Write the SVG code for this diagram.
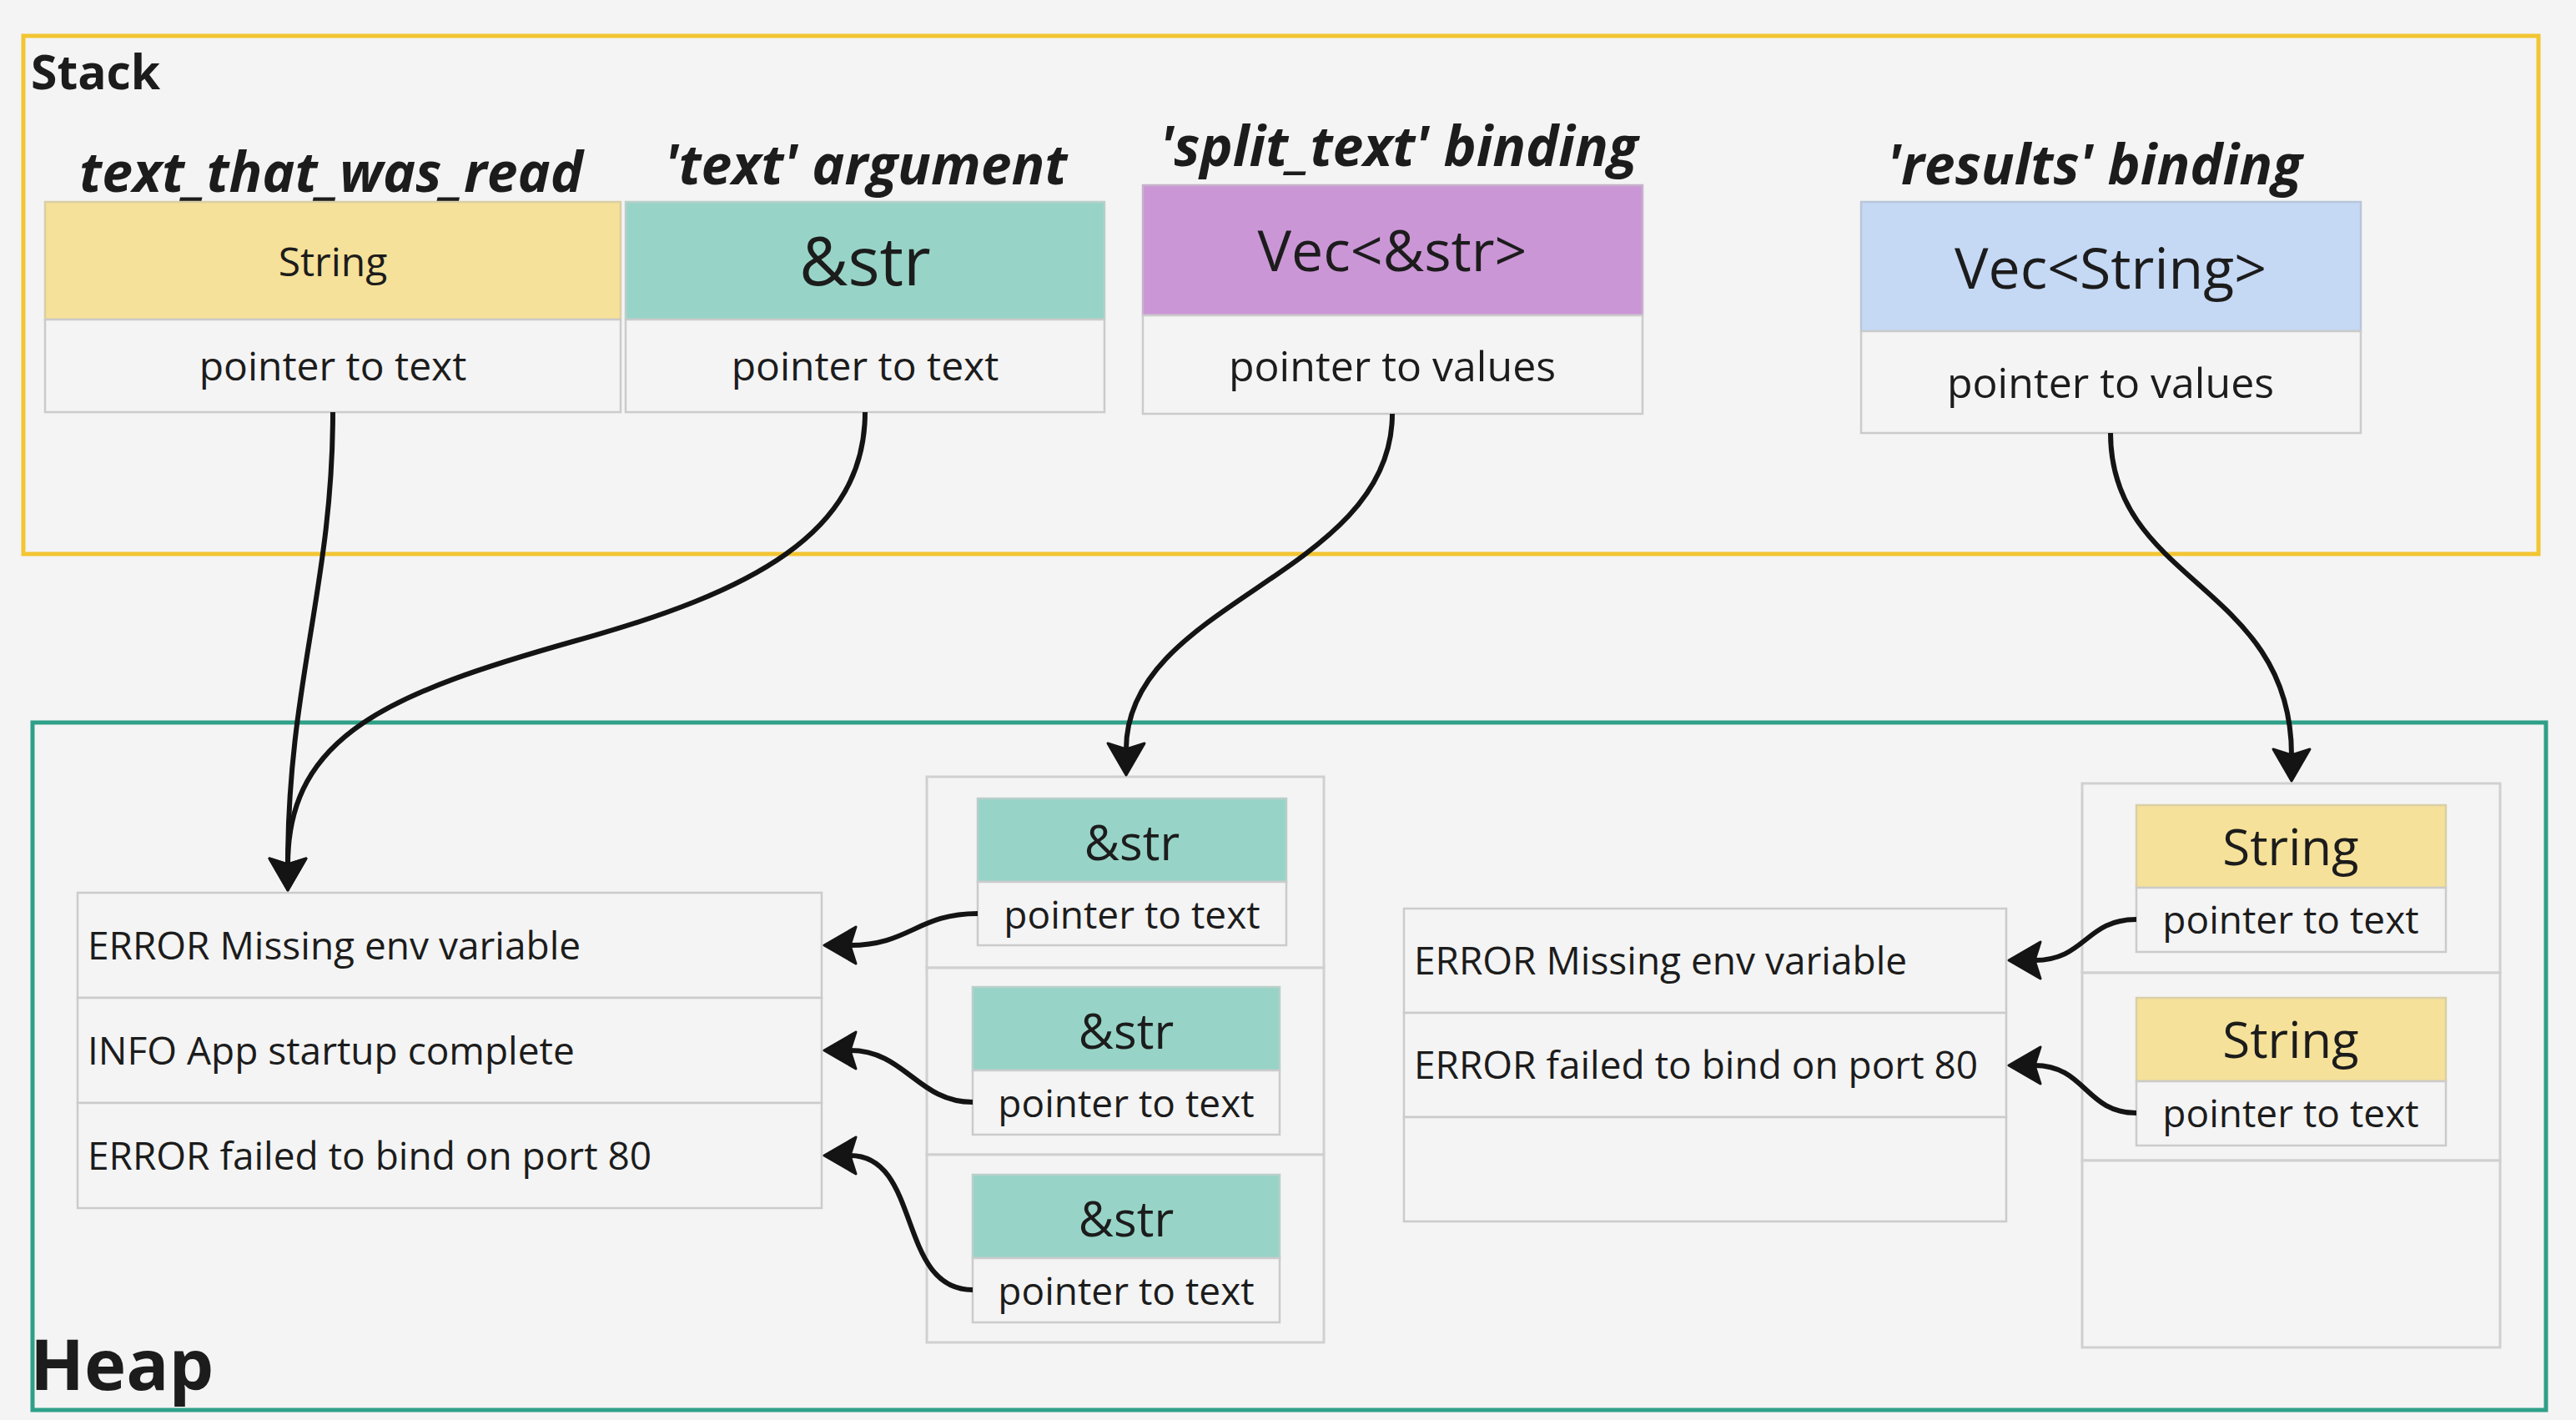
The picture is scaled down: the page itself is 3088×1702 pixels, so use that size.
<svg xmlns="http://www.w3.org/2000/svg" width="3088" height="1702" viewBox="0 0 3088 1702">
<style>
.t{font-family:"Open Sans","Noto Sans","DejaVu Sans",sans-serif;fill:#1c1c1c}
.title{font-weight:700;font-style:italic;font-size:66px;text-anchor:middle}
.c{text-anchor:middle}
.cell{fill:#f4f4f4;stroke:#cbcbcb;stroke-width:2.5}
.outer{fill:#f4f4f4;stroke:#d0d0d0;stroke-width:3}
.yel{fill:#f5e199;stroke:#d9cfa6;stroke-width:2.5}
.teal{fill:#97d4c7;stroke:#b9cfca;stroke-width:2.5}
.pur{fill:#cb96d6;stroke:#c7b1cc;stroke-width:2.5}
.blu{fill:#c5d9f5;stroke:#b8c6da;stroke-width:2.5}
.conn path{fill:none;stroke:#141414;stroke-width:6;marker-end:url(#ah)}
</style>
<defs>
<marker id="ah" markerUnits="userSpaceOnUse" viewBox="-4 -26 46 52" markerWidth="46" markerHeight="52" refX="7" refY="0" orient="auto" overflow="visible">
<path d="M38 0 L0 -22 L7 0 L0 22 Z" fill="#141414" stroke="#141414" stroke-width="3" stroke-linejoin="round"/>
</marker>
</defs>
<rect width="3088" height="1702" fill="#f4f4f4"/>

<g id="stack">
<rect x="28" y="43" width="3015" height="621" fill="none" stroke="#f2c531" stroke-width="5"/>
<text class="t" x="37" y="107" font-size="57" font-weight="700">Stack</text>
</g>

<g id="heap">
<rect x="39" y="866" width="3013" height="824" fill="none" stroke="#2fa088" stroke-width="5"/>
<text class="t" x="36" y="1666" font-size="85" font-weight="700">Heap</text>
</g>

<g id="text_that_was_read">
<text class="t title" x="397" y="230">text_that_was_read</text>
<rect class="yel" x="54" y="242" width="690" height="141"/>
<rect class="cell" x="54" y="383" width="690" height="111"/>
<text class="t c" x="399" y="331" font-size="48">String</text>
<text class="t c" x="399" y="456" font-size="48">pointer to text</text>
</g>

<g id="text_argument">
<text class="t title" x="1038" y="221">'text' argument</text>
<rect class="teal" x="750" y="242" width="574" height="141"/>
<rect class="cell" x="750" y="383" width="574" height="111"/>
<text class="t c" x="1037" y="342" font-size="80">&amp;str</text>
<text class="t c" x="1037" y="456" font-size="48">pointer to text</text>
</g>

<g id="split_text_binding">
<text class="t title" x="1677" y="199">'split_text' binding</text>
<rect class="pur" x="1370" y="222" width="599" height="156"/>
<rect class="cell" x="1370" y="378" width="599" height="118"/>
<text class="t c" x="1669" y="325" font-size="68">Vec&lt;&amp;str&gt;</text>
<text class="t c" x="1669" y="457" font-size="50">pointer to values</text>
</g>

<g id="results_binding">
<text class="t title" x="2511" y="221">'results' binding</text>
<rect class="blu" x="2231" y="242" width="599" height="155"/>
<rect class="cell" x="2231" y="397" width="599" height="122"/>
<text class="t c" x="2530" y="346" font-size="68">Vec&lt;String&gt;</text>
<text class="t c" x="2530" y="477" font-size="50">pointer to values</text>
</g>

<g id="heap_text">
<rect class="cell" x="93" y="1070" width="892" height="126"/>
<rect class="cell" x="93" y="1196" width="892" height="126"/>
<rect class="cell" x="93" y="1322" width="892" height="126"/>
<text class="t" x="105" y="1150" font-size="46">ERROR Missing env variable</text>
<text class="t" x="105" y="1276" font-size="46">INFO App startup complete</text>
<text class="t" x="105" y="1402" font-size="46">ERROR failed to bind on port 80</text>
</g>

<g id="split_text_values">
<rect class="outer" x="1111" y="931" width="476" height="229"/>
<rect class="outer" x="1111" y="1160" width="476" height="224"/>
<rect class="outer" x="1111" y="1384" width="476" height="225"/>
<rect class="teal" x="1172" y="957" width="370" height="100"/>
<rect class="cell" x="1172" y="1057" width="370" height="76"/>
<text class="t c" x="1357" y="1031" font-size="58">&amp;str</text>
<text class="t c" x="1357" y="1113" font-size="46">pointer to text</text>
<rect class="teal" x="1166" y="1183" width="368" height="100"/>
<rect class="cell" x="1166" y="1283" width="368" height="77"/>
<text class="t c" x="1350" y="1257" font-size="58">&amp;str</text>
<text class="t c" x="1350" y="1339" font-size="46">pointer to text</text>
<rect class="teal" x="1166" y="1408" width="368" height="100"/>
<rect class="cell" x="1166" y="1508" width="368" height="77"/>
<text class="t c" x="1350" y="1482" font-size="58">&amp;str</text>
<text class="t c" x="1350" y="1564" font-size="46">pointer to text</text>
</g>

<g id="results_text">
<rect class="cell" x="1683" y="1089" width="722" height="125"/>
<rect class="cell" x="1683" y="1214" width="722" height="125"/>
<rect class="cell" x="1683" y="1339" width="722" height="125"/>
<text class="t" x="1695" y="1168" font-size="46">ERROR Missing env variable</text>
<text class="t" x="1695" y="1293" font-size="46">ERROR failed to bind on port 80</text>
</g>

<g id="results_values">
<rect class="outer" x="2496" y="939" width="501" height="227"/>
<rect class="outer" x="2496" y="1166" width="501" height="225"/>
<rect class="outer" x="2496" y="1391" width="501" height="224"/>
<rect class="yel" x="2561" y="965" width="371" height="99"/>
<rect class="cell" x="2561" y="1064" width="371" height="77"/>
<text class="t c" x="2746" y="1037" font-size="60">String</text>
<text class="t c" x="2746" y="1119" font-size="46">pointer to text</text>
<rect class="yel" x="2561" y="1196" width="371" height="100"/>
<rect class="cell" x="2561" y="1296" width="371" height="77"/>
<text class="t c" x="2746" y="1268" font-size="60">String</text>
<text class="t c" x="2746" y="1351" font-size="46">pointer to text</text>
</g>

<g id="connectors" class="conn">
<path d="M399 494 C399 700 345 820 345 1036"/>
<path d="M1037 494 C1037 640 900 710 690 768 C470 830 345 880 345 1036"/>
<path d="M1669 496 C1669 690 1350 720 1350 898"/>
<path d="M2530 519 C2530 700 2747 700 2747 905"/>
<path d="M1172 1095 C1100 1095 1090 1133 1019 1133"/>
<path d="M1166 1321 C1100 1321 1085 1259 1019 1259"/>
<path d="M1166 1546 C1075 1546 1105 1385 1019 1385"/>
<path d="M2561 1102 C2500 1102 2500 1151 2439 1151"/>
<path d="M2561 1334 C2500 1334 2500 1277 2439 1277"/>
</g>
</svg>
